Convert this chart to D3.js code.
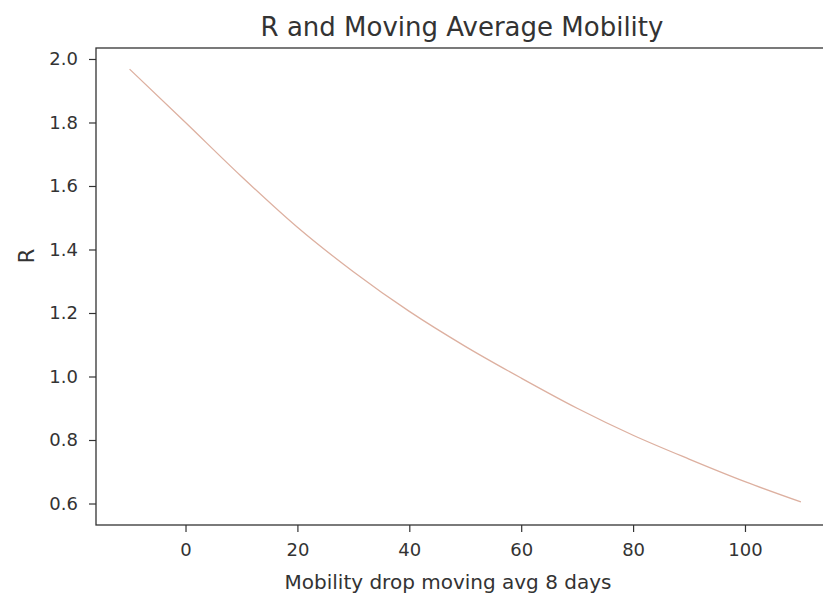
<!DOCTYPE html>
<html>
<head>
<meta charset="utf-8">
<script src="https://cdn.jsdelivr.net/npm/d3@7"></script>
<style>
  body { margin: 0; background: #fff; }
  svg { font-family: "DejaVu Sans", sans-serif; }
</style>
</head>
<body>
<script>
// Values
var mobility = [-10, 0, 10, 20, 30, 40, 50, 60, 70, 80, 90, 100, 110];
var rValues  = [1.968, 1.80, 1.63, 1.47, 1.33, 1.205, 1.095, 0.995, 0.90, 0.815, 0.74, 0.669, 0.605];
var xTicks = [0, 20, 40, 60, 80, 100];
var yTicks = [0.6, 0.8, 1.0, 1.2, 1.4, 1.6, 1.8, 2.0];

var width = 823, height = 597;
var plot = { left: 96, right: 834.5, top: 48, bottom: 525 };

var svg = d3.select("body").append("svg")
  .attr("width", width)
  .attr("height", height);

var x = d3.scaleLinear().domain([-16, 116]).range([plot.left, plot.right]);
var y = d3.scaleLinear().domain([0.5323, 2.0346]).range([plot.bottom, plot.top]);

var data = mobility.map(function (m, i) { return { x: m, r: rValues[i] }; });

// the curve
var line = d3.line()
  .x(function (d) { return x(d.x); })
  .y(function (d) { return y(d.r); })
  .curve(d3.curveMonotoneX);

svg.append("path")
  .datum(data)
  .attr("fill", "none")
  .attr("stroke", "#ddb0a0")
  .attr("stroke-width", 1.3)
  .attr("d", line);

// axes
var xAxis = d3.axisBottom(x).tickValues(xTicks).tickSize(7).tickPadding(11)
  .tickFormat(d3.format("d"));
var yAxis = d3.axisLeft(y).tickValues(yTicks).tickSize(7).tickPadding(11)
  .tickFormat(d3.format(".1f"));

var gx = svg.append("g")
  .attr("transform", "translate(0," + plot.bottom + ")")
  .call(xAxis);
var gy = svg.append("g")
  .attr("transform", "translate(" + plot.left + ",0)")
  .call(yAxis);

[gx, gy].forEach(function (g) {
  g.select(".domain").remove();
  g.selectAll("line").attr("stroke", "#333").attr("stroke-width", 1.2);
  g.selectAll("text").attr("fill", "#333").style("font-size", "18px")
    .style("font-family", "DejaVu Sans");
});
gx.selectAll("text").attr("dy", "0.71em");

// frame
svg.append("rect")
  .attr("x", plot.left)
  .attr("y", plot.top)
  .attr("width", plot.right - plot.left)
  .attr("height", plot.bottom - plot.top)
  .attr("fill", "none")
  .attr("stroke", "#333")
  .attr("stroke-width", 1.3);

// title
svg.append("text")
  .attr("x", 462)
  .attr("y", 36)
  .attr("text-anchor", "middle")
  .attr("fill", "#333")
  .style("font-size", "26px")
  .text("R and Moving Average Mobility");

// x label
svg.append("text")
  .attr("x", 448)
  .attr("y", 589)
  .attr("text-anchor", "middle")
  .attr("fill", "#333")
  .style("font-size", "20px")
  .text("Mobility drop moving avg 8 days");

// y label
svg.append("text")
  .attr("transform", "translate(34,256) rotate(-90)")
  .attr("text-anchor", "middle")
  .attr("fill", "#333")
  .style("font-size", "21px")
  .text("R");
</script>
</body>
</html>
